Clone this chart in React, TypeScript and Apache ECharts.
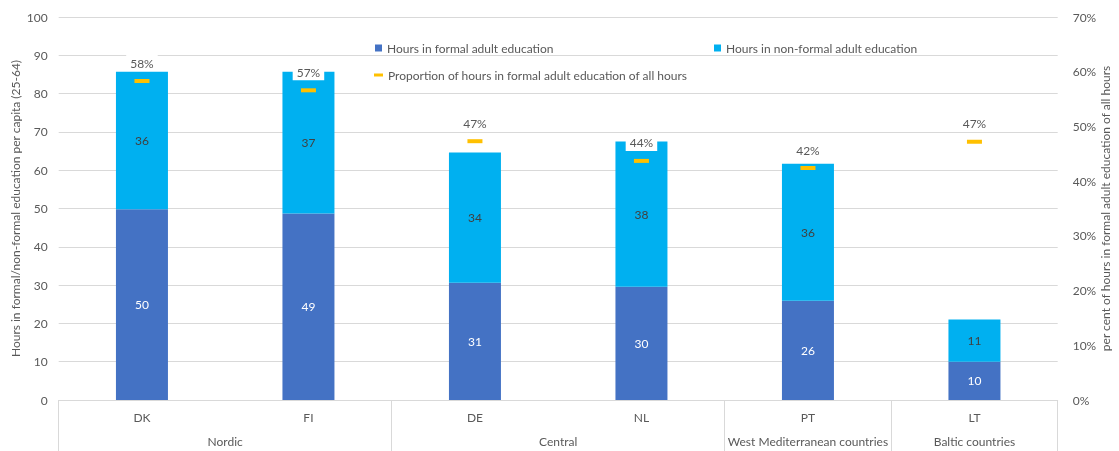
import React, { useEffect, useRef } from "react";
import * as echarts from "echarts";

const countries = ["DK", "FI", "DE", "NL", "PT", "LT"];
const groupNames = ["Nordic", "Central", "West Mediterranean countries", "Baltic countries"];
const groupCenters = [1, 3, 4.5, 5.5];
const groupBounds = [0, 2, 4, 5, 6];
const formalHours = [49.8, 48.7, 30.6, 29.6, 25.9, 10.0];
const nonFormalHours = [35.9, 37.0, 34.0, 37.9, 35.8, 11.0];
const formalShare = [0.583, 0.566, 0.473, 0.437, 0.424, 0.472];
const leftTicks = { min: 0, max: 100, interval: 10 };
const rightTicks = { min: 0, max: 0.7, interval: 0.1 };

const FONT = "Lato";
const TXT = "#595959";
const GRID = "#D9D9D9";

export default function App() {
  const ref = useRef<HTMLDivElement>(null);
  useEffect(() => {
    document.body.style.margin = "0";
    const chart = echarts.init(ref.current!, null, { renderer: "svg" });
    const legendText = { color: TXT, fontSize: 12, fontFamily: FONT };
    chart.setOption({
      animation: false,
      textStyle: { fontFamily: FONT },
      grid: {
        left: 58.7, right: 61.3, top: 17, bottom: 51,
        containLabel: false, outerBoundsMode: "none",
      },
      legend: [
        {
          left: 370, top: 37, itemWidth: 7, itemHeight: 7, icon: "rect", itemGap: 6,
          textStyle: legendText, data: ["Hours in formal adult education"],
        },
        {
          left: 709, top: 37, itemWidth: 7, itemHeight: 7, icon: "rect",
          textStyle: legendText, data: ["Hours in non-formal adult education"],
        },
        {
          left: 369, top: 64, itemWidth: 9, itemHeight: 3,
          textStyle: legendText,
          data: [{ name: "Proportion of hours in formal adult education of all hours", icon: "rect" }],
        },
      ],
      xAxis: [
        {
          type: "category",
          data: countries,
          position: "bottom",
          axisLine: { show: true, lineStyle: { color: GRID } },
          axisTick: { show: false },
          axisLabel: { color: TXT, fontSize: 12, margin: 11 },
          splitLine: { show: false },
        },
        {
          type: "value",
          min: 0,
          max: 6,
          position: "bottom",
          offset: 0,
          axisLine: { show: false },
          axisTick: {
            show: true, customValues: groupBounds, length: 52, inside: false,
            lineStyle: { color: GRID },
          },
          axisLabel: {
            show: true, customValues: groupCenters, color: TXT, fontSize: 12, margin: 35,
            formatter: (v: number) => {
              const i = groupCenters.indexOf(v);
              return i >= 0 ? groupNames[i] : "";
            },
          },
          splitLine: { show: false },
        },
      ],
      yAxis: [
        {
          type: "value",
          ...leftTicks,
          position: "left",
          name: "Hours in formal/non-formal education per capita (25-64)",
          nameLocation: "middle",
          nameGap: 37,
          nameRotate: 90,
          nameMoveOverlap: false,
          nameTextStyle: { color: TXT, fontSize: 12 },
          axisLine: { show: false },
          axisTick: { show: false },
          axisLabel: { color: TXT, fontSize: 12, margin: 11 },
          splitLine: { lineStyle: { color: GRID } },
        },
        {
          type: "value",
          ...rightTicks,
          position: "right",
          name: "per cent of hours in formal adult education of all hours",
          nameLocation: "middle",
          nameGap: 42,
          nameRotate: 90,
          nameMoveOverlap: false,
          nameTextStyle: { color: TXT, fontSize: 12 },
          axisLine: { show: false },
          axisTick: { show: false },
          axisLabel: {
            color: TXT, fontSize: 12, margin: 15,
            formatter: (v: number) => Math.round(v * 100) + "%",
          },
          splitLine: { show: false },
        },
      ],
      series: [
        {
          name: "Hours in formal adult education",
          type: "bar",
          stack: "h",
          xAxisIndex: 0,
          yAxisIndex: 0,
          barWidth: 52,
          data: formalHours,
          itemStyle: { color: "#4472C4" },
          label: {
            show: true, position: "inside", color: "#FFFFFF", fontSize: 12,
            formatter: (p: any) => String(Math.round(p.value)),
          },
        },
        {
          name: "Hours in non-formal adult education",
          type: "bar",
          stack: "h",
          xAxisIndex: 0,
          yAxisIndex: 0,
          barWidth: 52,
          data: nonFormalHours,
          itemStyle: { color: "#00B0F0" },
          label: {
            show: true, position: "inside", color: "#404040", fontSize: 12,
            formatter: (p: any) => String(Math.round(p.value)),
          },
        },
        {
          name: "Proportion of hours in formal adult education of all hours",
          type: "scatter",
          xAxisIndex: 0,
          yAxisIndex: 1,
          symbol: "rect",
          symbolSize: [15, 4],
          data: formalShare,
          itemStyle: { color: "#FFC000", opacity: 1 },
          z: 5,
          label: {
            show: true, position: "top", distance: 8, color: TXT, fontSize: 12,
            backgroundColor: "#FFFFFF", padding: [2, 4],
            formatter: (p: any) => Math.round(p.value * 100) + "%",
          },
        },
      ],
    });
    return () => chart.dispose();
  }, []);
  return <div ref={ref} style={{ position: "fixed", left: 0, top: 0, width: 1119, height: 451 }} />;
}
